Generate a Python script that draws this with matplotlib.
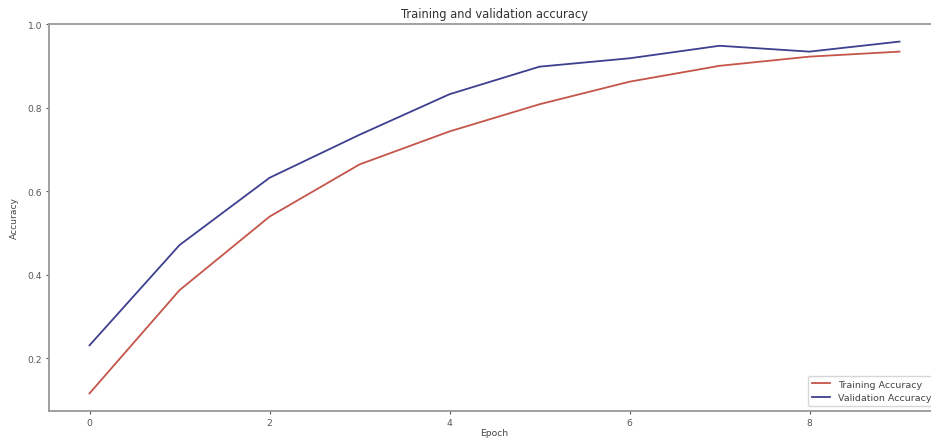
import matplotlib
matplotlib.use("Agg")
import matplotlib.pyplot as plt

epochs = list(range(10))
train_acc = [0.116, 0.363, 0.539, 0.664, 0.743, 0.808, 0.862, 0.900, 0.922, 0.934]
val_acc = [0.231, 0.471, 0.632, 0.735, 0.832, 0.898, 0.918, 0.948, 0.934, 0.958]
xticks = [0, 2, 4, 6, 8]
yticks = [0.2, 0.4, 0.6, 0.8, 1.0]

fig = plt.figure(figsize=(9.31, 4.39), dpi=100)
ax = fig.add_axes([49/931, 27/439, 891/931, 387/439])

ax.plot(epochs, train_acc, color="#c4554a", lw=1.3, label="Training Accuracy")
ax.plot(epochs, val_acc, color="#3d3f8f", lw=1.3, label="Validation Accuracy")

ax.set_xticks(xticks)
ax.set_yticks(yticks)
ax.tick_params(labelsize=6.6, colors="#555555", length=2.5, pad=2.5)
for s in ax.spines.values():
    s.set_color("#999999")
    s.set_linewidth(1.3)

ax.set_title("Training and validation accuracy", fontsize=8.3, color="#333333", pad=5)
ax.set_xlabel("Epoch", fontsize=6.6, color="#444444", labelpad=1)
ax.set_ylabel("Accuracy", fontsize=6.6, color="#444444", labelpad=6)
leg = ax.legend(loc="lower right", fontsize=6.8, frameon=True)
for t in leg.get_texts():
    t.set_color("#444444")

fig.savefig("out.png", dpi=100)
